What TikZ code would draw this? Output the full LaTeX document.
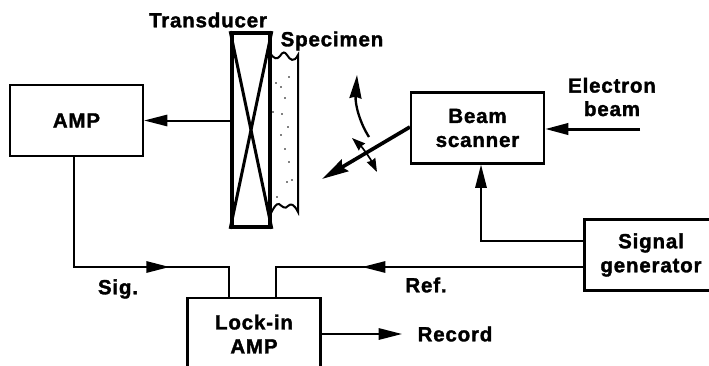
\documentclass[tikz,border=0pt]{standalone}
\usepackage{fontspec}
\setmainfont{Liberation Sans}[LetterSpace=4, BoldFeatures={FakeBold=1.6}]
\usetikzlibrary{arrows.meta, decorations.markings}
\tikzset{
  tipS/.tip={Stealth[length=7mm, width=3.4mm, inset=0pt]},
  wire/.style={line width=0.6mm, black},
  arrowW/.style={wire, -{tipS}},
  arrowM/.style={wire, postaction={decorate}, decoration={markings,
      mark=at position #1 with {\arrow{tipS}}}},
  beamline/.style={line width=1mm, black},
  labelT/.style={font=\fontsize{17.5}{20}\selectfont\bfseries, align=center, inner sep=0pt},
  boxA/.style={rectangle, draw=black, line width=0.65mm, fill=white, align=center,
               font=\fontsize{17.5}{20.5}\selectfont\bfseries, inner sep=0pt,
               minimum width=3.99cm, minimum height=2.13cm},
}

\begin{document}
\begin{tikzpicture}[x=0.03cm, y=-0.03cm]
    \useasboundingbox (0,0) rectangle (709,365);
    \clip (0,0) rectangle (709,365);
    \fill[white] (0,0) rectangle (709,365);

    % boxes
    \node[boxA] (amp) at (76.5,120.5) {AMP};
    \node[boxA] (scanner) at (477.5,128) {Beam\\scanner};
    \node[boxA] (siggen) at (651,255) {Signal\\generator};
    \node[boxA, minimum height=2.16cm] (lockin) at (254,334) {Lock-in\\AMP};

    % specimen
    \draw[line width=0.6mm, fill=white] (270,53) .. controls (274,59) and (277,60) .. (280,56)
      .. controls (283,51) and (285,52) .. (287,55) .. controls (290,60) and (294,63) .. (298,55)
      -- (298,212) .. controls (294,204) and (291,203) .. (288,206)
      .. controls (285,210) and (282,206) .. (279,204) .. controls (276,203) and (273,209) .. (270,215);
    \foreach \dotx/\doty in {276/83, 281/87, 289/77, 285/98, 273/112, 282/114, 288/127,
                             281/135, 285/149, 289/162, 292/180, 287/182, 277/197}
      \fill (\dotx,\doty) circle (0.8);

    % transducer
    \node[rectangle, draw=black, line width=1.1mm, minimum width=1.14cm, minimum height=5.82cm,
          inner sep=0pt] (trans) at (251,130) {};
    \draw[line width=0.9mm] (trans.north west) -- (trans.south east);
    \draw[line width=0.9mm] (trans.north east) -- (trans.south west);

    % labels
    \node[labelT] (transtext) at (208,20) {Transducer};
    \node[labelT] (spectext) at (332,41) {Specimen};
    \node[labelT] (beamtext) at (612,97) {Electron\\beam};
    \node[labelT] (sigtext) at (118,289) {Sig.};
    \node[labelT] (reftext) at (426,285) {Ref.};
    \node[labelT] (rectext) at (455,334) {Record};

    % free ends
    \coordinate (beamin) at (640,129);
    \coordinate (recout) at (402,334);
    \coordinate (sigcorner) at (74,267);
    \coordinate (sigdrop) at (229,267);
    \coordinate (refdrop) at (276,267);
    \coordinate (scancorner) at (481,241);
    \coordinate (beamtip) at (322,179);

    % connectors
    \draw[arrowW] (trans.west |- amp.east) -- (amp.east);
    \draw[arrowW, line width=0.9mm] (beamin) -- (scanner.east |- beamin);
    \draw[arrowW] (siggen.west |- scancorner) -- (scancorner) -- (scancorner |- scanner.south);
    \draw[arrowM=0.697] (amp.south -| sigcorner) -- (sigcorner) -- (sigdrop) -- (lockin.north -| sigdrop);
    \draw[arrowM=0.656] (siggen.west |- refdrop) -- (refdrop) -- (lockin.north -| refdrop);
    \draw[arrowW] (lockin.east) -- (recout);

    % scanning beam
    \draw[beamline, line width=1.1mm, -{Stealth[length=8mm, width=4mm, inset=1mm]}] (scanner.west |- 0,127) -- (beamtip);
    \coordinate (sweepA) at (369,137);
    \coordinate (sweepB) at (357,75);
    \draw[line width=0.7mm, -{Stealth[length=7mm, width=3.6mm, inset=0.5mm]}] (sweepA) .. controls (360,123) and (355,105) .. (sweepB);
    \coordinate (rockA) at (352,138);
    \coordinate (rockB) at (377,172);
    \draw[line width=0.5mm, {Stealth[length=4mm, width=2.8mm, inset=0.3mm]}-{Stealth[length=4mm, width=2.8mm, inset=0.3mm]}] (rockA) .. controls (362,147) and (370,158) .. (rockB);
\end{tikzpicture}
\end{document}
